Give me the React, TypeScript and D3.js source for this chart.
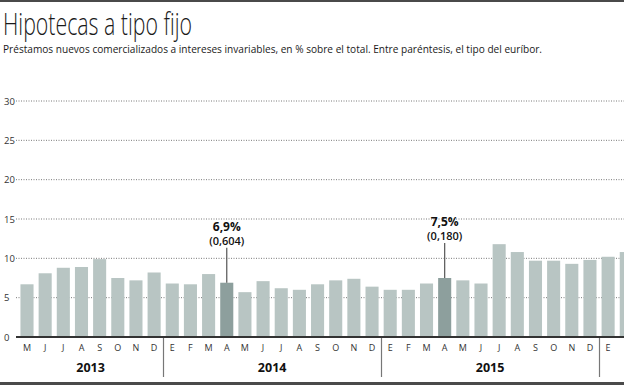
import { useEffect, useRef } from "react";
import * as d3 from "d3";

const months = [
  "M", "J", "J", "A", "S", "O", "N", "D",
  "E", "F", "M", "A", "M", "J", "J", "A", "S", "O", "N", "D",
  "E", "F", "M", "A", "M", "J", "J", "A", "S", "O", "N", "D",
  "E", "F",
];
const years = ["2013", "2014", "2015", "2016"];
const yearOf = [
  0, 0, 0, 0, 0, 0, 0, 0,
  1, 1, 1, 1, 1, 1, 1, 1, 1, 1, 1, 1,
  2, 2, 2, 2, 2, 2, 2, 2, 2, 2, 2, 2,
  3, 3,
];
const values = [
  6.7, 8.1, 8.8, 8.9, 9.9, 7.5, 7.2, 8.2,
  6.8, 6.7, 8.0, 6.9, 5.7, 7.1, 6.2, 6.0, 6.7, 7.2, 7.4, 6.4,
  6.0, 6.0, 6.8, 7.5, 7.2, 6.8, 11.8, 10.8, 9.7, 9.7, 9.3, 9.8,
  10.2, 10.8,
];
const yTicks = [0, 5, 10, 15, 20, 25, 30];
const notedIndex = [11, 23];
const notedValue = ["6,9%", "7,5%"];
const notedEuribor = ["(0,604)", "(0,180)"];

export default function App() {
  const ref = useRef<SVGSVGElement | null>(null);

  useEffect(() => {
    if (!ref.current) return;
    const W = 624;
    const H = 385;
    const font = "'Open Sans', 'Noto Sans', sans-serif";

    const svg = d3.select(ref.current);
    svg.selectAll("*").remove();

    svg.append("rect").attr("width", W).attr("height", H).attr("fill", "#fff");

    // borders
    svg.append("rect").attr("x", 0).attr("y", 0).attr("width", W).attr("height", 2).attr("fill", "#4a4a4a");
    svg.append("rect").attr("x", 0).attr("y", 382).attr("width", W).attr("height", 3).attr("fill", "#4a4a4a");

    svg.append("text")
      .attr("x", 3).attr("y", 35)
      .attr("font-family", font).attr("font-weight", 300).attr("font-size", 31)
      .attr("fill", "#1a1a1a")
      .attr("textLength", 189).attr("lengthAdjust", "spacingAndGlyphs")
      .text("Hipotecas a tipo fijo");

    svg.append("text")
      .attr("x", 3).attr("y", 53)
      .attr("font-family", font).attr("font-size", 11.5)
      .attr("fill", "#1a1a1a")
      .attr("textLength", 539).attr("lengthAdjust", "spacingAndGlyphs")
      .text("Préstamos nuevos comercializados a intereses invariables, en % sobre el total. Entre paréntesis, el tipo del euríbor.");

    const n = values.length;
    const step = 18.16;
    const x0 = 27 - step / 2;
    const x = d3.scaleBand<number>()
      .domain(d3.range(n))
      .range([x0, x0 + n * step])
      .paddingInner(0.28)
      .paddingOuter(0.14);
    const y = d3.scaleLinear().domain([0, 30]).range([337, 101]);

    // grid
    svg.append("g")
      .selectAll("line")
      .data(yTicks.filter((d) => d > 0))
      .enter()
      .append("line")
      .attr("x1", 16).attr("x2", W)
      .attr("y1", (d) => y(d)).attr("y2", (d) => y(d))
      .attr("stroke", "#7a7a7a").attr("stroke-width", 1)
      .attr("stroke-dasharray", "1,1.5");

    svg.append("g")
      .selectAll("text")
      .data(yTicks)
      .enter()
      .append("text")
      .attr("x", 4).attr("y", (d) => y(d) + 3.5)
      .attr("font-family", font).attr("font-size", 9.5)
      .attr("fill", "#333")
      .text((d) => d);

    // bars
    svg.append("g")
      .selectAll("rect")
      .data(values)
      .enter()
      .append("rect")
      .attr("x", (_, i) => x(i)!)
      .attr("y", (d) => y(d))
      .attr("width", x.bandwidth())
      .attr("height", (d) => y(0) - y(d))
      .attr("fill", (_, i) => (notedIndex.includes(i) ? "#8d9f9d" : "#b8c5c3"));

    // baseline
    svg.append("line")
      .attr("x1", 16).attr("x2", W)
      .attr("y1", y(0)).attr("y2", y(0))
      .attr("stroke", "#333").attr("stroke-width", 2);

    // month labels
    svg.append("g")
      .selectAll("text")
      .data(months)
      .enter()
      .append("text")
      .attr("x", (_, i) => x(i)! + x.bandwidth() / 2)
      .attr("y", 351)
      .attr("text-anchor", "middle")
      .attr("font-family", font).attr("font-size", 9)
      .attr("fill", "#333")
      .text((d) => d);

    // year separators and labels
    const gap = (x.step() - x.bandwidth()) / 2;
    years.forEach((yr, k) => {
      const idx = yearOf.map((v, i) => (v === k ? i : -1)).filter((i) => i >= 0);
      const first = idx[0];
      const last = idx[idx.length - 1];
      if (first > 0) {
        const sx = Math.round(x(first)! - gap) + 0.5;
        svg.append("line")
          .attr("x1", sx).attr("x2", sx)
          .attr("y1", y(0) + 1).attr("y2", 377)
          .attr("stroke", "#777").attr("stroke-width", 1.2);
      }
      if (idx.length > 2) {
        const cx = (x(first)! + x(last)! + x.bandwidth()) / 2;
        svg.append("text")
          .attr("x", cx).attr("y", 372)
          .attr("text-anchor", "middle")
          .attr("font-family", font).attr("font-weight", 700).attr("font-size", 12.5)
          .attr("fill", "#111")
          .text(yr);
      }
    });

    // annotations
    notedIndex.forEach((i, k) => {
      const cx = x(i)! + x.bandwidth() / 2;
      const top = y(values[i]);
      svg.append("line")
        .attr("x1", cx).attr("x2", cx)
        .attr("y1", top).attr("y2", top - 35)
        .attr("stroke", "#555").attr("stroke-width", 1.2);
      svg.append("text")
        .attr("x", cx).attr("y", top - 38)
        .attr("text-anchor", "middle")
        .attr("font-family", font).attr("font-weight", 600).attr("font-size", 11)
        .attr("fill", "#111")
        .text(notedEuribor[k]);
      svg.append("text")
        .attr("x", cx).attr("y", top - 52)
        .attr("text-anchor", "middle")
        .attr("font-family", font).attr("font-weight", 700).attr("font-size", 12)
        .attr("fill", "#111")
        .text(notedValue[k]);
    });
  }, []);

  return (
    <svg
      ref={ref}
      width={624}
      height={385}
      style={{ position: "absolute", left: 0, top: 0 }}
    />
  );
}
